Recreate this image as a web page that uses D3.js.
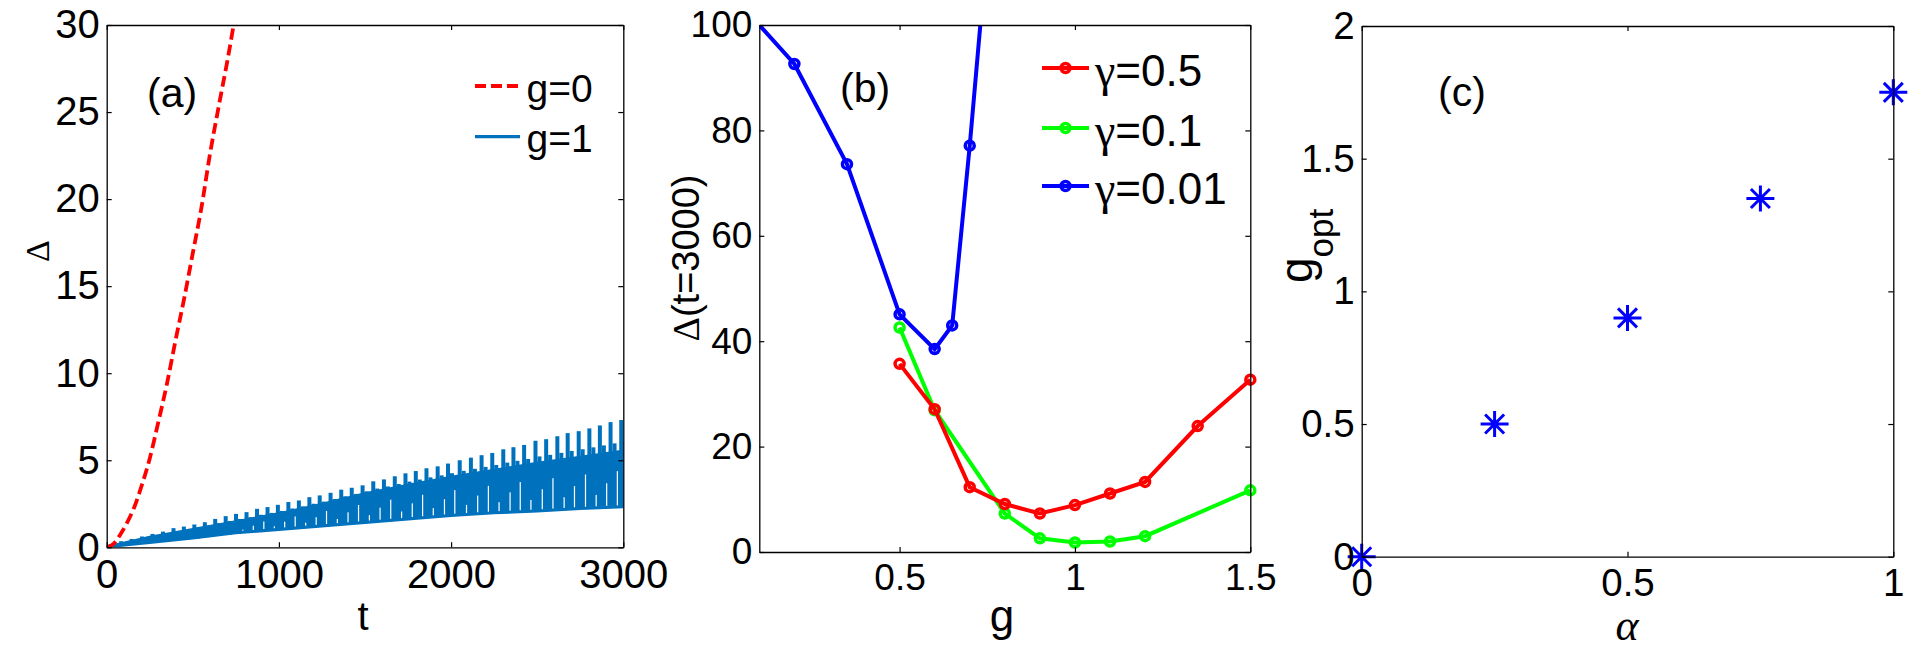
<!DOCTYPE html>
<html>
<head>
<meta charset="utf-8">
<script src="https://cdn.jsdelivr.net/npm/d3@7"></script>
<style>
body { margin: 0; background: #fff; }
text { font-family: "Liberation Sans", Arial, sans-serif; fill: #000; }
.sym { font-family: "Liberation Serif", "Times New Roman", serif; }
</style>
</head>
<body>
<div id="chart"></div>
<script>
// three panels: (a) spread vs time, (b) spread at t=3000 vs g, (c) optimal g vs alpha

// (a) g=0, dashed red
var gZeroT = [0, 40, 80, 120, 160, 200, 250, 300, 350, 400, 450, 500, 550, 600, 650, 700, 750, 800];
var gZeroD = [0, 0.2, 0.75, 1.45, 2.3, 3.45, 5.1, 7.2, 9.4, 11.9, 14.3, 16.9, 19.5, 22.6, 25.3, 27.9, 30.7, 33.2];

// (a) g=1, oscillating: peaks of each period and the dense band under them
var gOnePeakT = [23, 84, 145, 205, 266, 327, 388, 448, 509, 570, 630, 691, 751, 812, 873, 934, 994, 1055,
  1116, 1177, 1237, 1300, 1362, 1423, 1486, 1548, 1610, 1673, 1735, 1795, 1857, 1922, 1982, 2050, 2115,
  2177, 2239, 2303, 2362, 2424, 2490, 2552, 2617, 2677, 2741, 2803, 2864, 2926, 2988];
var gOnePeakD = [0.19, 0.35, 0.48, 0.62, 0.77, 0.90, 1.10, 1.19, 1.31, 1.44, 1.63, 1.79, 1.92, 2.02, 2.21,
  2.31, 2.44, 2.60, 2.69, 2.88, 2.98, 3.13, 3.31, 3.42, 3.56, 3.79, 3.90, 4.08, 4.25, 4.38, 4.54, 4.65,
  4.81, 5.00, 5.15, 5.29, 5.42, 5.63, 5.75, 5.88, 6.12, 6.21, 6.38, 6.56, 6.67, 6.83, 7.00, 7.19, 7.31];
var gOneBandT = [0, 250, 500, 750, 1000, 1250, 1500, 1750, 2000, 2250, 2500, 2750, 3000];
var gOneBandHi = [0.05, 0.6, 1.05, 1.5, 1.95, 2.5, 3.1, 3.6, 4.05, 4.45, 4.85, 5.2, 5.55];
var gOneBandLo = [0, 0.25, 0.5, 0.8, 1.0, 1.2, 1.4, 1.6, 1.8, 1.95, 2.05, 2.2, 2.3];

// (b)
var g05 = [0.5, 0.6, 0.7, 0.8, 0.9, 1.0, 1.1, 1.2, 1.35, 1.5];
var d05 = [35.7, 27.1, 12.3, 9.1, 7.3, 8.9, 11.1, 13.3, 23.9, 32.7];
var g01 = [0.5, 0.6, 0.8, 0.9, 1.0, 1.1, 1.2, 1.5];
var d01 = [42.6, 26.9, 7.3, 2.6, 1.8, 2.0, 3.0, 11.7];
var g001 = [0.05, 0.2, 0.35, 0.5, 0.6, 0.65, 0.7, 0.75];
var d001 = [103.7, 92.6, 73.6, 45.1, 38.5, 43.0, 77.1, 115];

// (c)
var alphaVals = [0, 0.25, 0.5, 0.75, 1];
var gOpt = [0, 0.5, 0.9, 1.35, 1.75];

// ticks
var aXTicks = [0, 1000, 2000, 3000], aYTicks = [0, 5, 10, 15, 20, 25, 30];
var bXTicks = [0.5, 1, 1.5], bYTicks = [0, 20, 40, 60, 80, 100];
var cXTicks = [0, 0.5, 1], cYTicks = [0, 0.5, 1, 1.5, 2];

var w = 1920, h = 652;

var svg = d3.select("#chart").append("svg")
  .attr("width", w)
  .attr("height", h);

function panel(id, box, xDom, yDom, xTicks, yTicks, fs) {
  var x = d3.scaleLinear().domain(xDom).range([box.l, box.r]),
    y = d3.scaleLinear().domain(yDom).range([box.b, box.t]);
  var g = svg.append("g");
  g.append("clipPath").attr("id", id)
    .append("rect")
    .attr("x", box.l).attr("y", box.t)
    .attr("width", box.r - box.l).attr("height", box.b - box.t);
  var data = g.append("g");
  var fmt = d3.format(""), none = function() { return ""; };
  g.append("g").attr("transform", "translate(0," + box.b + ")")
    .call(d3.axisBottom(x).tickValues(xTicks).tickSize(-5).tickSizeOuter(0).tickPadding(12).tickFormat(fmt));
  g.append("g").attr("transform", "translate(0," + box.t + ")")
    .call(d3.axisTop(x).tickValues(xTicks).tickSize(-5).tickSizeOuter(0).tickFormat(none));
  g.append("g").attr("transform", "translate(" + box.l + ",0)")
    .call(d3.axisLeft(y).tickValues(yTicks).tickSize(-5).tickSizeOuter(0).tickPadding(7).tickFormat(fmt));
  g.append("g").attr("transform", "translate(" + box.r + ",0)")
    .call(d3.axisRight(y).tickValues(yTicks).tickSize(-5).tickSizeOuter(0).tickFormat(none));
  g.selectAll(".tick text").style("font-size", fs + "px");
  g.selectAll(".domain").attr("stroke-width", 1.3);
  g.selectAll(".tick line").attr("stroke-width", 1.2);
  return { x: x, y: y, g: g, data: data, clip: "url(#" + id + ")" };
}

function label(str, x, y, fs, anchor, rot) {
  var t = svg.append("text")
    .attr("transform", "translate(" + x + "," + y + ")" + (rot ? " rotate(-90)" : ""))
    .attr("text-anchor", anchor || "start")
    .style("font-size", fs + "px")
    .text(str);
  return t;
}

// ---------- (a)
var A = panel("clipA", { l: 106.7, r: 623.3, t: 25, b: 547.3 }, [0, 3000], [0, 30], aXTicks, aYTicks, 40);
var blueA = "#0072bd";

var hiAt = d3.scaleLinear().domain(gOneBandT).range(gOneBandHi),
  loAt = d3.scaleLinear().domain(gOneBandT).range(gOneBandLo);

var aData = A.data.append("g").attr("clip-path", A.clip);

aData.append("path")
  .datum(d3.range(gOneBandT.length))
  .attr("fill", blueA)
  .attr("stroke", blueA)
  .attr("stroke-width", 2)
  .attr("d", d3.area()
    .x(function(i) { return A.x(gOneBandT[i]); })
    .y0(function(i) { return A.y(gOneBandLo[i]); })
    .y1(function(i) { return A.y(gOneBandHi[i]); }));

// tall spike of every period, down into the band
aData.selectAll(".spike")
  .data(d3.range(gOnePeakT.length))
.enter().append("rect")
  .attr("class", "spike")
  .attr("x", function(i) { return A.x(gOnePeakT[i]) - 2; })
  .attr("width", 4)
  .attr("y", function(i) { return A.y(gOnePeakD[i]); })
  .attr("height", function(i) { return A.y(loAt(gOnePeakT[i])) - A.y(gOnePeakD[i]); })
  .attr("fill", blueA);

// shoulder just after each spike, a little above the band
aData.selectAll(".shoulder")
  .data(d3.range(gOnePeakT.length))
.enter().append("rect")
  .attr("class", "shoulder")
  .attr("x", function(i) { return A.x(gOnePeakT[i]) + 2; })
  .attr("width", 4)
  .attr("y", function(i) {
    var t = gOnePeakT[i], hi = hiAt(t);
    return A.y(hi + 0.3 * (gOnePeakD[i] - hi));
  })
  .attr("height", function(i) {
    var t = gOnePeakT[i], hi = hiAt(t);
    return A.y(loAt(t)) - A.y(hi + 0.3 * (gOnePeakD[i] - hi));
  })
  .attr("fill", blueA);

// thin white streaks in the lower part of the band, one per period
aData.selectAll(".streak")
  .data(d3.range(gOnePeakT.length).filter(function(i) { return gOnePeakT[i] > 700; }))
.enter().append("rect")
  .attr("class", "streak")
  .attr("x", function(i) { return A.x(gOnePeakT[i] + 36); })
  .attr("width", 1.2)
  .attr("y", function(i) {
    var t = gOnePeakT[i] + 36, lo = loAt(t);
    return A.y(lo + (0.25 + 0.2 * (i % 3)) * (hiAt(t) - lo));
  })
  .attr("height", function(i) {
    var t = gOnePeakT[i] + 36, lo = loAt(t);
    return A.y(lo + 0.12) - A.y(lo + (0.25 + 0.2 * (i % 3)) * (hiAt(t) - lo));
  })
  .attr("fill", "#fff");

aData.append("path")
  .datum(d3.range(gZeroT.length))
  .attr("fill", "none")
  .attr("stroke", "#ff0000")
  .attr("stroke-width", 3.8)
  .attr("stroke-dasharray", "11,5")
  .attr("d", d3.line()
    .curve(d3.curveMonotoneX)
    .x(function(i) { return A.x(gZeroT[i]); })
    .y(function(i) { return A.y(gZeroD[i]); }));

label("(a)", 147, 107, 41);
label("t", 363, 630, 40, "middle");
label("\u0394", 49, 251, 34, "middle", true).attr("class", "sym");

svg.append("line").attr("x1", 475).attr("x2", 520).attr("y1", 86).attr("y2", 86)
  .attr("stroke", "#ff0000").attr("stroke-width", 3.8).attr("stroke-dasharray", "11,5");
svg.append("line").attr("x1", 475).attr("x2", 520).attr("y1", 136.6).attr("y2", 136.6)
  .attr("stroke", blueA).attr("stroke-width", 3.2);
label("g=0", 526.5, 101.7, 39);
label("g=1", 526.5, 151.7, 39);

// ---------- (b)
var B = panel("clipB", { l: 759.3, r: 1250.3, t: 25, b: 552 }, [0.1, 1.5], [0, 100], bXTicks, bYTicks, 37);

var bSeries = [
  { g: g05, d: d05, color: "#ff0000", name: "=0.5" },
  { g: g01, d: d01, color: "#00ff00", name: "=0.1" },
  { g: g001, d: d001, color: "#0000ff", name: "=0.01" }
];

var bLine = d3.line()
  .x(function(p) { return B.x(p[0]); })
  .y(function(p) { return B.y(p[1]); });

var gs = B.data.selectAll(".series")
  .data(bSeries.slice().reverse())
.enter().append("g")
  .attr("class", "series");

gs.append("path")
  .attr("clip-path", B.clip)
  .attr("fill", "none")
  .attr("stroke", function(s) { return s.color; })
  .attr("stroke-width", 4)
  .attr("d", function(s) { return bLine(d3.zip(s.g, s.d)); });

gs.each(function(s) {
  var pts = d3.zip(s.g, s.d).filter(function(p) { return p[0] >= 0.1 && p[1] <= 100; });
  d3.select(this).selectAll("circle")
    .data(pts)
  .enter().append("circle")
    .attr("cx", function(p) { return B.x(p[0]); })
    .attr("cy", function(p) { return B.y(p[1]); })
    .attr("r", 4.5)
    .attr("fill", "none")
    .attr("stroke", s.color)
    .attr("stroke-width", 3.5);
});

label("(b)", 840, 102, 41);
label("g", 1002, 631, 44, "middle");
var by = label("\u0394", 699, 258, 38, "middle", true);
by.text(null);
by.append("tspan").attr("class", "sym").text("\u0394");
by.append("tspan").text("(t=3000)");

var lg = svg.selectAll(".bleg")
  .data(bSeries)
.enter().append("g")
  .attr("class", "bleg")
  .attr("transform", function(s, i) { return "translate(0," + [68, 128, 186][i] + ")"; });
lg.append("line")
  .attr("x1", 1042).attr("x2", 1089)
  .attr("stroke", function(s) { return s.color; })
  .attr("stroke-width", 4);
lg.append("circle")
  .attr("cx", 1065.5).attr("r", 4.5)
  .attr("fill", "none")
  .attr("stroke", function(s) { return s.color; })
  .attr("stroke-width", 3.5);
var lt = lg.append("text")
  .attr("x", 1095).attr("y", 18)
  .style("font-size", "44px");
lt.append("tspan").attr("class", "sym").style("font-size", "46px").text("\u03b3");
lt.append("tspan").text(function(s) { return s.name; });

// ---------- (c)
var C = panel("clipC", { l: 1361.7, r: 1893.3, t: 26, b: 556.7 }, [0, 1], [0, 2], cXTicks, cYTicks, 38.5);

var star = "M-14,0L14,0M0,-13L0,13M-9.5,-9.5L9.5,9.5M-9.5,9.5L9.5,-9.5";
C.data.selectAll(".star")
  .data(d3.range(alphaVals.length))
.enter().append("path")
  .attr("class", "star")
  .attr("transform", function(i) { return "translate(" + C.x(alphaVals[i]) + "," + C.y(gOpt[i]) + ")"; })
  .attr("d", star)
  .attr("stroke", "#0000ff")
  .attr("stroke-width", 3)
  .attr("fill", "none");
C.g.raise();

label("(c)", 1438, 106, 41);
label("\u03b1", 1627, 640, 44, "middle").attr("class", "sym").style("font-style", "italic");
var gl = label("g", 1312, 283, 46, "start", true);
gl.append("tspan").attr("dy", 20.6).style("font-size", "35px").text("opt");
</script>
</body>
</html>
